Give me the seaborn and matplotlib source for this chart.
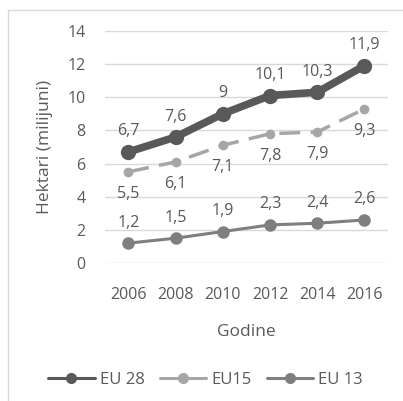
import matplotlib
matplotlib.use("Agg")
import matplotlib.pyplot as plt
import seaborn as sns
import pandas as pd
from matplotlib.patches import Rectangle
from matplotlib.lines import Line2D

years = ["2006", "2008", "2010", "2012", "2014", "2016"]
eu28 = [6.7, 7.6, 9.0, 10.1, 10.3, 11.9]
eu15 = [5.5, 6.1, 7.1, 7.8, 7.9, 9.3]
eu13 = [1.2, 1.5, 1.9, 2.3, 2.4, 2.6]
y_ticks = [0, 2, 4, 6, 8, 10, 12, 14]

sns.set_theme(style="white")
plt.rcParams["font.family"] = ["Open Sans", "DejaVu Sans"]
txt = "#595959"

fig = plt.figure(figsize=(4.03, 4.01), dpi=100)
ax = fig.add_axes([0.26, 0.344, 0.703, 0.579])

x = list(range(len(years)))
series = [
    ("EU 28", eu28, "#595959", 5.5, 11, (0, ()), "above"),
    ("EU15", eu15, "#a6a6a6", 2.5, 7, (0, (6, 3)), "below"),
    ("EU 13", eu13, "#7f7f7f", 2.2, 9, (0, ()), "above"),
]

handles = []
for name, vals, col, lw, ms, ls, pos in series:
    df = pd.DataFrame({"x": x, "y": vals})
    sns.lineplot(data=df, x="x", y="y", ax=ax, color=col, linewidth=lw,
                 marker="o", markersize=ms, markeredgewidth=0,
                 linestyle=ls)
    handles.append(Line2D([], [], color=col, linewidth=2.2, marker="o",
                          markersize=8, markeredgewidth=0))
    for xi, v in zip(x, vals):
        lab = f"{v:g}".replace(".", ",")
        off = 9 if pos == "above" else -10
        ax.annotate(lab, (xi, v), xytext=(0, off), textcoords="offset points",
                    ha="center", va="bottom" if pos == "above" else "top",
                    fontsize=11.5, color=txt)

ax.set_xlim(-0.5, 5.5)
ax.set_ylim(0, 14)
ax.set_yticks(y_ticks)
ax.set_xticks(x)
ax.set_xticklabels(years)
ax.grid(axis="y", color="#d9d9d9", linewidth=1)
for s in ax.spines.values():
    s.set_visible(False)
ax.tick_params(axis="x", length=0, labelsize=11.5, colors=txt, pad=17)
ax.tick_params(axis="y", length=0, labelsize=11.5, colors=txt, pad=14)
ax.set_xlabel("Godine", fontsize=12.5, color=txt, labelpad=15)
ax.set_ylabel("Hektari (milijuni)", fontsize=12.5, color=txt, labelpad=10)

fig.legend(handles, [s[0] for s in series], loc="center",
           bbox_to_anchor=(0.51, 0.052), ncol=3, frameon=False,
           fontsize=12, labelcolor=txt, handlelength=2.8,
           columnspacing=0.9, handletextpad=0.3)

fig.patches.append(Rectangle((8 / 403, -0.1), 1.2, 1.1 - 10 / 401,
                             transform=fig.transFigure, fill=False,
                             edgecolor="#d9d9d9", linewidth=1))

fig.savefig("out.png", dpi=100)
